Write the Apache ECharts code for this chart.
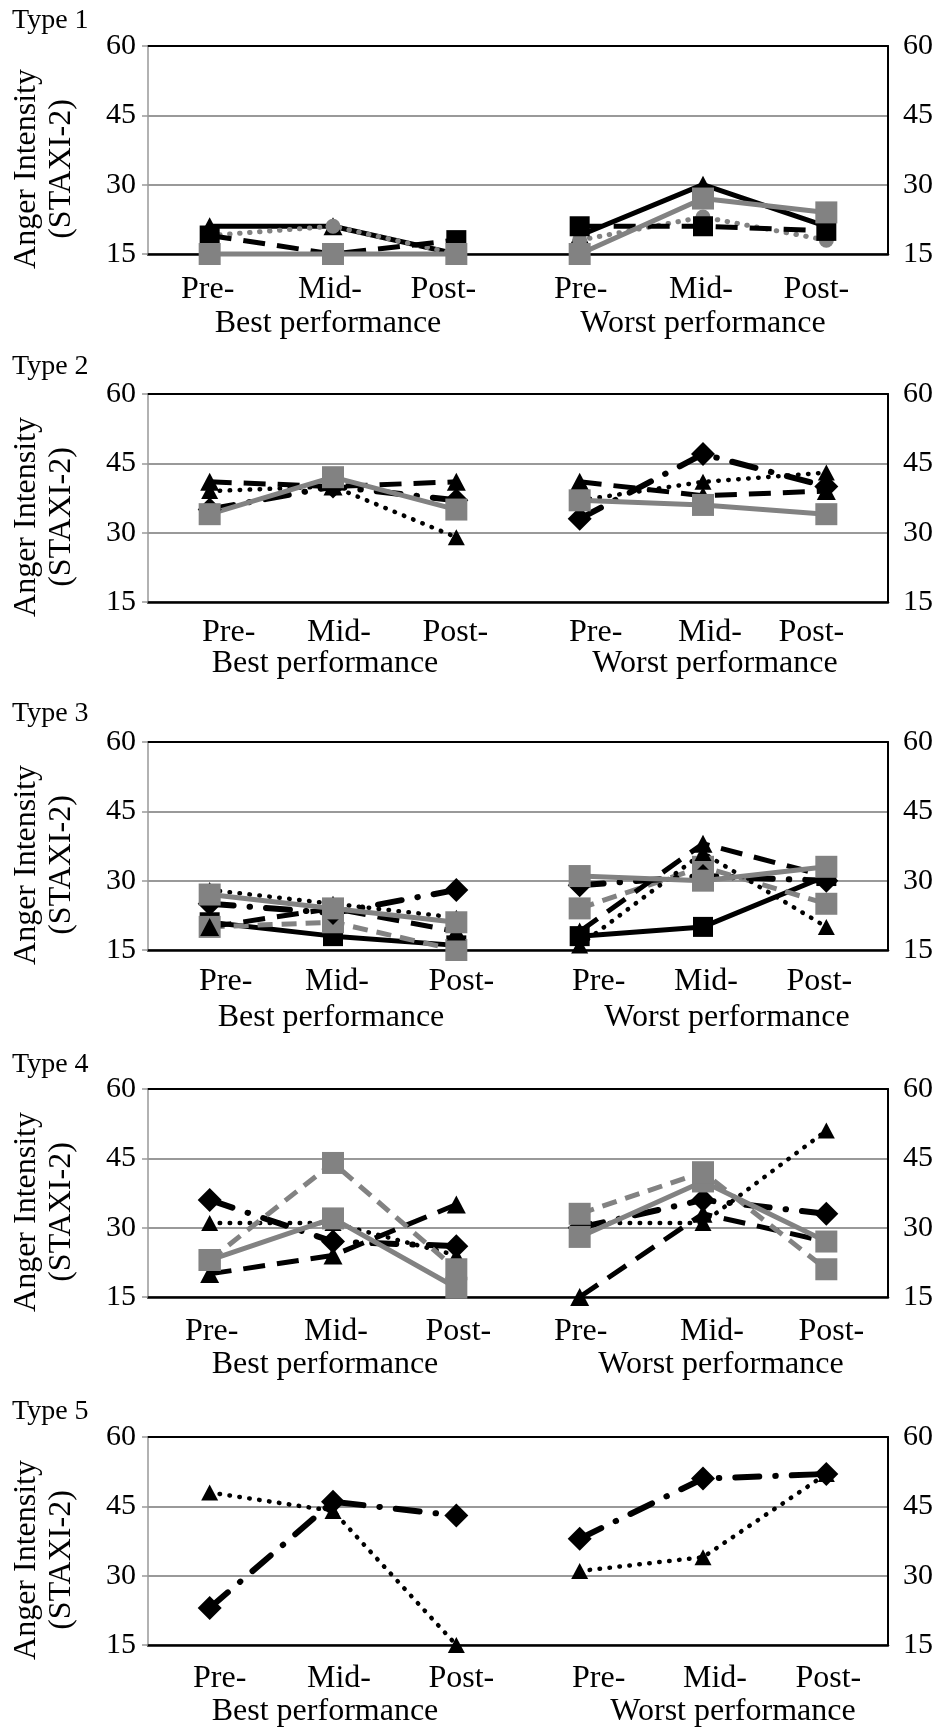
<!DOCTYPE html>
<html>
<head>
<meta charset="utf-8">
<title>Anger intensity by type</title>
<script src="https://cdn.jsdelivr.net/npm/echarts@6/dist/echarts.min.js"></script>
<style>
  html, body { margin: 0; padding: 0; background: #fff; }
  #chart { width: 945px; height: 1731px; }
</style>
</head>
<body>
<div id="chart"></div>
<script>
// categories and labels
var phases = ['Pre-', 'Mid-', 'Post-', 'Pre-', 'Mid-', 'Post-'];
var groups = ['Best performance', 'Worst performance'];
var panelTitles = ['Type 1', 'Type 2', 'Type 3', 'Type 4', 'Type 5'];
var yName = 'Anger Intensity\n(STAXI-2)';
var yMin = 15, yMax = 60, yStep = 15;

// values: best pre, mid, post, then worst pre, mid, post
var t1BlackSolidTri = [21, 21, 15, 19, 30, 21];
var t1GreyDotCircle = [19, 21, 15, 18, 23, 18];
var t1BlackDashSq   = [19, 15, 18, 21, 21, 20];
var t1GreySolidSq   = [15, 15, 15, 15, 27, 24];

var t2DashDotDia    = [35, 40, 37, 33, 47, 40];
var t2BlackDashTri  = [41, 40, 41, 41, 38, 39];
var t2BlackDotTri   = [39, 40, 29, 37, 41, 43];
var t2GreySolidSq   = [34, 42, 35, 37, 36, 34];

var t3BlackSolidSq  = [21, 18, 16, 18, 20, 31];
var t3GreyDashSq    = [20, 21, 15, 24, 33, 25];
var t3BlackDashTri  = [20, 24, 19, 19, 38, 31];
var t3DashDotDia    = [25, 23, 28, 29, 31, 30];
var t3BlackDotTri   = [28, 25, 22, 16, 36, 20];
var t3GreySolidSq   = [27, 24, 21, 31, 30, 33];

var t4BlackDashTri  = [20, 24, 35, 15, 33, 27];
var t4BlackDotTri   = [31, 31, 24, 31, 31, 51];
var t4DashDotDia    = [36, 27, 26, 30, 36, 33];
var t4GreySolidSq   = [23, 32, 17, 28, 40, 27];
var t4GreyDashSq    = [23, 44, 21, 33, 42, 21];

var t5BlackDotTri   = [48, 44, 15, 31, 34, 52];
var t5DashDotDia    = [23, 46, 43, 38, 51, 52];

var GREY = '#828282';
var FONT = 'Liberation Serif';

// line looks
var styles = {
  blackSolidTri: { color: '#000', type: 'solid', width: 5, cap: 'butt', symbol: 'triangle', size: [19, 18] },
  blackSolidSq:  { color: '#000', type: 'solid', width: 5, cap: 'butt', symbol: 'rect', size: 20 },
  blackDashSq:   { color: '#000', type: [22, 12], width: 5, cap: 'butt', symbol: 'rect', size: 20 },
  blackDashTri:  { color: '#000', type: [22, 12], width: 5, cap: 'butt', symbol: 'triangle', size: [19, 18] },
  blackDotTri:   { color: '#000', type: [0.5, 9.5], width: 4.5, cap: 'round', symbol: 'triangle', size: [17, 16] },
  dashDotDia:    { color: '#000', type: [24, 16, 0.5, 16], width: 6, cap: 'round', symbol: 'diamond', size: [24, 24] },
  greySolidSq:   { color: GREY, type: 'solid', width: 5, cap: 'butt', symbol: 'rect', size: 22 },
  greyDashSq:    { color: GREY, type: [15, 9], width: 5, cap: 'butt', symbol: 'rect', size: 22 },
  greyDotCircle: { color: GREY, type: [0.5, 9.5], width: 5, cap: 'round', symbol: 'circle', size: 15 }
};

// per panel layout
var panels = [
  { top: 46,   lines: [['blackSolidTri', t1BlackSolidTri], ['greyDotCircle', t1GreyDotCircle], ['blackDashSq', t1BlackDashSq], ['greySolidSq', t1GreySolidSq]],
    shift: [-2, -3, -13, 1, -2, -10], catMargin: 20, groupShift: [-5, 0], groupMargin: 54, titleY: 24 },
  { top: 394,  lines: [['dashDotDia', t2DashDotDia], ['blackDashTri', t2BlackDashTri], ['blackDotTri', t2BlackDotTri], ['greySolidSq', t2GreySolidSq]],
    shift: [19, 6, -1, 16, 7, -15], catMargin: 15, groupShift: [-8, 12], groupMargin: 46, titleY: 370 },
  { top: 742,  lines: [['blackSolidSq', t3BlackSolidSq], ['greyDashSq', t3GreyDashSq], ['blackDashTri', t3BlackDashTri], ['dashDotDia', t3DashDotDia], ['blackDotTri', t3BlackDotTri], ['greySolidSq', t3GreySolidSq]],
    shift: [16, 4, 5, 19, 3, -7], catMargin: 16, groupShift: [-2, 24], groupMargin: 52, titleY: 717 },
  { top: 1089, lines: [['blackDashTri', t4BlackDashTri], ['blackDotTri', t4BlackDotTri], ['dashDotDia', t4DashDotDia], ['greySolidSq', t4GreySolidSq], ['greyDashSq', t4GreyDashSq]],
    shift: [2, 3, 2, 1, 9, 5], catMargin: 19, groupShift: [-8, 18], groupMargin: 52, titleY: 1068 },
  { top: 1437, lines: [['blackDotTri', t5BlackDotTri], ['dashDotDia', t5DashDotDia]],
    shift: [10, 6, 5, 19, 12, 2], catMargin: 18, groupShift: [-8, 30], groupMargin: 51, titleY: 1415 }
];
var plotH = 208;

function shiftRich(shifts, size) {
  var rich = {};
  shifts.forEach(function (s, i) {
    rich['s' + i] = {
      fontFamily: FONT, fontSize: size, color: '#000',
      padding: s > 0 ? [0, 0, 0, 2 * s] : [0, -2 * s, 0, 0]
    };
  });
  return rich;
}

var grid = [], xAxis = [], yAxis = [], series = [], graphic = [];

panels.forEach(function (p, k) {
  grid.push({ left: 148, right: 57, top: p.top, height: plotH });

  // phase labels
  xAxis.push({
    type: 'category', gridIndex: k, data: phases, boundaryGap: true, position: 'bottom',
    axisLine: { onZero: false, lineStyle: { color: '#000', width: 2.5 } },
    axisTick: { show: false },
    axisLabel: {
      interval: 0, margin: p.catMargin,
      formatter: function (v, i) { return '{s' + i + '|' + v + '}'; },
      rich: shiftRich(p.shift, 32)
    }
  });
  // group labels
  xAxis.push({
    type: 'category', gridIndex: k, data: groups, boundaryGap: true, position: 'bottom',
    axisLine: { show: false }, axisTick: { show: false },
    axisLabel: {
      interval: 0, margin: p.groupMargin,
      formatter: function (v, i) { return '{s' + i + '|' + v + '}'; },
      rich: shiftRich(p.groupShift, 32)
    }
  });
  // top border
  xAxis.push({
    type: 'category', gridIndex: k, data: phases, position: 'top',
    axisLine: { onZero: false, lineStyle: { color: '#000', width: 2 } },
    axisTick: { show: false }, axisLabel: { show: false }
  });

  yAxis.push({
    type: 'value', gridIndex: k, position: 'left', min: yMin, max: yMax, interval: yStep,
    axisLine: { show: true, lineStyle: { color: '#999', width: 1.5 } },
    axisTick: { show: true, length: 6, lineStyle: { color: '#999', width: 1.5 } },
    splitLine: { show: true, lineStyle: { color: '#999', width: 2 } },
    axisLabel: { margin: 12, fontFamily: FONT, fontSize: 30, color: '#000' }
  });
  yAxis.push({
    type: 'value', gridIndex: k, position: 'right', min: yMin, max: yMax, interval: yStep,
    axisLine: { show: true, lineStyle: { color: '#000', width: 2 } },
    axisTick: { show: false }, splitLine: { show: false },
    axisLabel: { margin: 15, fontFamily: FONT, fontSize: 30, color: '#000' }
  });

  p.lines.forEach(function (ln) {
    var st = styles[ln[0]], vals = ln[1];
    [[0, 1, 2], [3, 4, 5]].forEach(function (idx) {
      var data = phases.map(function (_, i) { return idx.indexOf(i) >= 0 ? vals[i] : null; });
      series.push({
        type: 'line', xAxisIndex: 3 * k, yAxisIndex: 2 * k, data: data,
        clip: false, connectNulls: false, showAllSymbol: true,
        symbol: st.symbol, symbolSize: st.size,
        lineStyle: { color: st.color, width: st.width, type: st.type, cap: st.cap },
        itemStyle: { color: st.color, borderWidth: 0 },
        emphasis: { disabled: true }
      });
    });
  });

  graphic.push({
    type: 'text', left: 12, top: p.titleY - 17,
    style: { text: panelTitles[k], fontFamily: FONT, fontSize: 28, fill: '#000' }
  });
  graphic.push({
    type: 'text', x: 44, y: p.top + plotH / 2 + 19, rotation: Math.PI / 2,
    style: {
      text: yName, fontFamily: FONT, fontSize: 32, lineHeight: 35, fill: '#000',
      align: 'center', verticalAlign: 'middle', textAlign: 'center', textVerticalAlign: 'middle'
    }
  });
});

var chart = echarts.init(document.getElementById('chart'), null, { renderer: 'canvas' });
chart.setOption({
  animation: false,
  backgroundColor: '#fff',
  grid: grid,
  xAxis: xAxis,
  yAxis: yAxis,
  series: series,
  graphic: graphic
});
</script>
</body>
</html>
